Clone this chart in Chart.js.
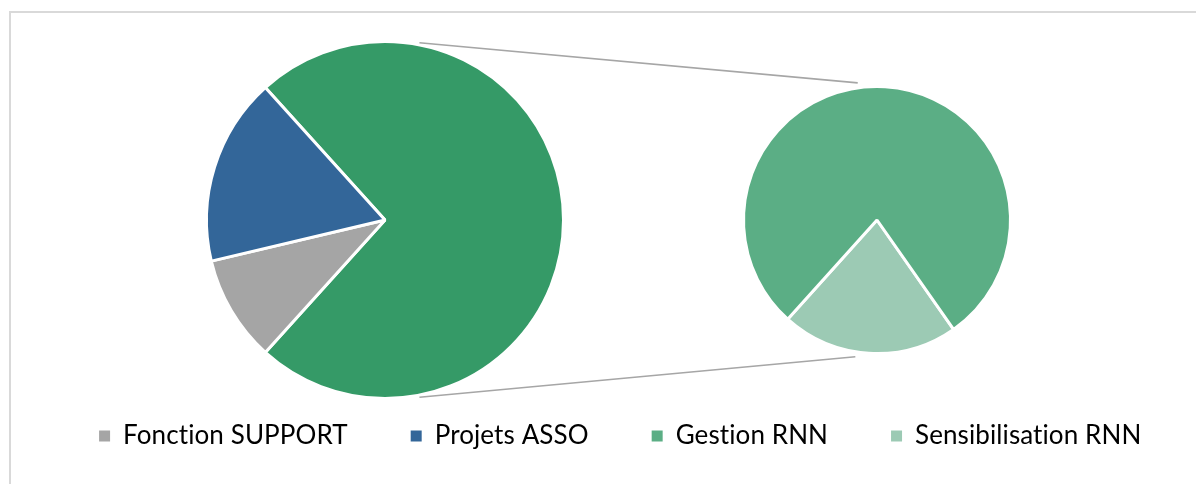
<!DOCTYPE html>
<html>
<head>
<meta charset="utf-8">
<script src="https://cdn.jsdelivr.net/npm/chart.js@4.4.0/dist/chart.umd.min.js"></script>
<style>
  html, body { margin: 0; padding: 0; background: #fff; overflow: hidden; }
  #page { position: relative; width: 1196px; height: 484px; overflow: hidden; }
  #cadre { position: absolute; left: 9px; top: 11px; width: 1300px; height: 600px; border: 2px solid #d9d9d9; }
  .zone { position: absolute; left: 0; top: 0; width: 1196px; height: 484px; }
  #zoneLegende { top: 360px; width: 1236px; height: 200px; }
</style>
</head>
<body>
<div id="page">
  <div id="cadre"></div>
  <div class="zone"><canvas id="pieGauche"></canvas></div>
  <div class="zone"><canvas id="pieDroite"></canvas></div>
  <div class="zone" id="zoneLegende"><canvas id="legende"></canvas></div>
</div>
<script>
// répartition en %
var categories = ['Fonction SUPPORT', 'Projets ASSO', 'Gestion RNN', 'Sensibilisation RNN'];
var valeurs = [9.6, 17.0, 57.7, 15.7];
var couleurs = ['#a5a5a5', '#336699', '#5bae85', '#9ccab4'];
var couleurAutre = '#359a67';

scriptMain = {
    graphGauche: null,
    graphDroite: null,
    police: "'Lato', 'DejaVu Sans', sans-serif",

    init: function () {
        Chart.defaults.animation = false;
        Chart.defaults.events = [];
        scriptMain.pieGauche();
        scriptMain.pieDroite();
        scriptMain.legende();
    },

    // camembert principal : autre (gestion + sensibilisation), support, projets
    pieGauche: function () {
        var autre = valeurs[2] + valeurs[3];
        var total = valeurs[0] + valeurs[1] + autre;
        var degAutre = autre / total * 360;
        scriptMain.graphGauche = new Chart(document.getElementById('pieGauche'), {
            type: 'pie',
            data: {
                labels: ['Autre', categories[0], categories[1]],
                datasets: [{
                    data: [autre, valeurs[0], valeurs[1]],
                    backgroundColor: [couleurAutre, couleurs[0], couleurs[1]],
                    borderColor: '#ffffff',
                    borderWidth: 3
                }]
            },
            options: {
                responsive: true,
                maintainAspectRatio: false,
                rotation: 90 - degAutre / 2,
                layout: { padding: { left: 205, right: 631, top: 40, bottom: 84 } },
                plugins: { legend: { display: false }, tooltip: { enabled: false } }
            }
        });
    },

    // traits gris entre les deux camemberts
    liens: {
        id: 'liens',
        afterDraw: function (chart) {
            var g = scriptMain.graphGauche.getDatasetMeta(0).data[0];
            var d = chart.getDatasetMeta(0).data[0];
            var ctx = chart.ctx;
            var rad = Math.PI / 180;
            ctx.save();
            ctx.strokeStyle = '#a6a6a6';
            ctx.lineWidth = 1.6;
            [[-79, -98], [79, 99]].forEach(function (a) {
                ctx.beginPath();
                ctx.moveTo(g.x + (g.outerRadius + 2) * Math.cos(a[0] * rad), g.y + (g.outerRadius + 2) * Math.sin(a[0] * rad));
                ctx.lineTo(d.x + (d.outerRadius + 5) * Math.cos(a[1] * rad), d.y + (d.outerRadius + 5) * Math.sin(a[1] * rad));
                ctx.stroke();
            });
            ctx.restore();
        }
    },

    pieDroite: function () {
        scriptMain.graphDroite = new Chart(document.getElementById('pieDroite'), {
            type: 'pie',
            data: {
                labels: [categories[3], categories[2]],
                datasets: [{
                    data: [valeurs[3], valeurs[2]],
                    backgroundColor: [couleurs[3], couleurs[2]],
                    borderColor: '#ffffff',
                    borderWidth: 3
                }]
            },
            options: {
                responsive: true,
                maintainAspectRatio: false,
                rotation: 145,
                layout: { padding: { left: 742, right: 184, top: 85, bottom: 129 } },
                plugins: { legend: { display: false }, tooltip: { enabled: false } }
            },
            plugins: [scriptMain.liens]
        });
    },

    // pas de ligature "ti" dans la légende
    sansLigature: {
        id: 'sansLigature',
        beforeDraw: function (chart) {
            chart.ctx.letterSpacing = '0.1px';
        }
    },

    legende: function () {
        new Chart(document.getElementById('legende'), {
            type: 'pie',
            data: {
                labels: categories,
                datasets: [{ data: valeurs, backgroundColor: couleurs, hidden: true }]
            },
            options: {
                responsive: true,
                maintainAspectRatio: false,
                plugins: {
                    tooltip: { enabled: false },
                    legend: {
                        position: 'top',
                        labels: {
                            boxWidth: 11,
                            boxHeight: 11,
                            padding: 63,
                            color: '#404040',
                            font: { family: scriptMain.police, size: 26 },
                            generateLabels: function () {
                                return categories.map(function (c, i) {
                                    return { text: c, fillStyle: couleurs[i], strokeStyle: couleurs[i], lineWidth: 0, hidden: false, index: i };
                                });
                            }
                        }
                    }
                }
            },
            plugins: [scriptMain.sansLigature]
        });
    }
}

scriptMain.init();
</script>
</body>
</html>
